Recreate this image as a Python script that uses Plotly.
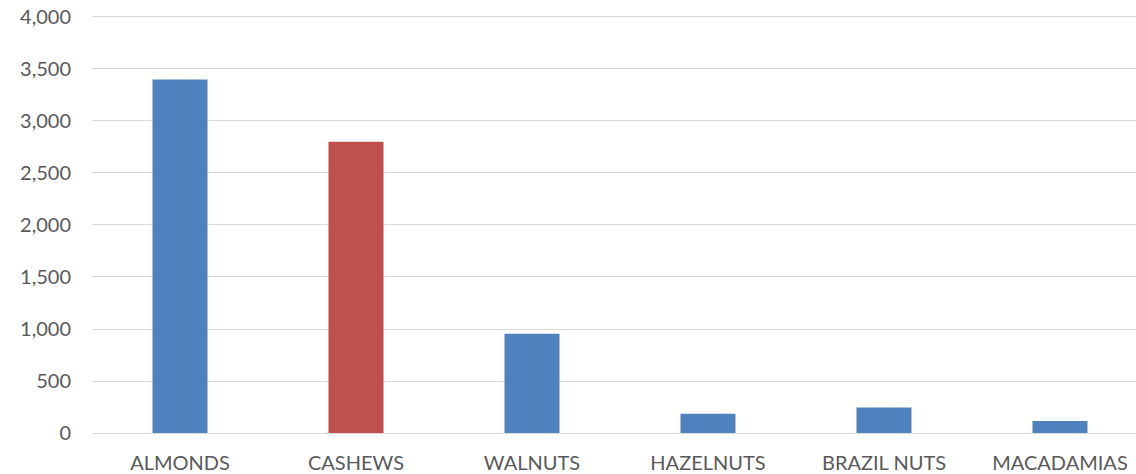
import plotly.graph_objects as go

categories = ["ALMONDS", "CASHEWS", "WALNUTS", "HAZELNUTS", "BRAZIL NUTS", "MACADAMIAS"]
values = [3400, 2800, 955, 185, 245, 115]
colors = ["#4f81bd", "#c0504d", "#4f81bd", "#4f81bd", "#4f81bd", "#4f81bd"]
tick_vals = [0, 500, 1000, 1500, 2000, 2500, 3000, 3500, 4000]
tick_text = ["0", "500", "1,000", "1,500", "2,000", "2,500", "3,000", "3,500", "4,000"]

fig = go.Figure(go.Bar(x=categories, y=values, marker=dict(color=colors, line=dict(width=0))))

fig.update_layout(
    width=1136, height=474,
    margin=dict(l=92, r=0, t=7, b=41),
    plot_bgcolor="white", paper_bgcolor="white",
    bargap=0.6875,
    showlegend=False,
    font=dict(family="Lato", size=20, color="#595959"),
)
fig.update_xaxes(range=[-0.5, 5.432], showgrid=False, showline=False, zeroline=False,
                 ticks="", ticklabelstandoff=16, tickfont=dict(size=20, color="#595959"))
fig.update_yaxes(range=[0, 4096], tickvals=tick_vals, ticktext=tick_text,
                 showgrid=True, gridcolor="#d9d9d9", gridwidth=1, zeroline=True,
                 zerolinecolor="#d9d9d9", zerolinewidth=1, showline=False,
                 ticks="", ticklabelstandoff=20, tickfont=dict(size=20, color="#595959"))

fig.write_html("out.html", config={"displayModeBar": False},
               post_script="document.body.style.margin='0';")
